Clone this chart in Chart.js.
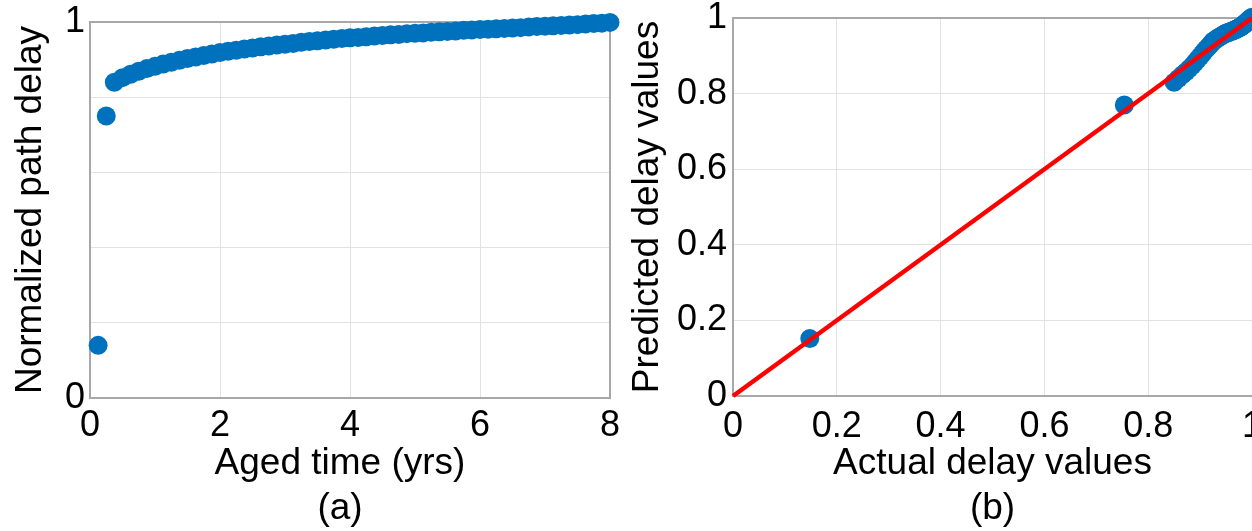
<!DOCTYPE html>
<html>
<head>
<meta charset="utf-8">
<script src="https://cdn.jsdelivr.net/npm/chart.js@4/dist/chart.umd.min.js"></script>
<style>
html, body { margin:0; padding:0; background:#fff; overflow:hidden; width:1252px; height:531px; }
#wrap { position:relative; width:1252px; height:531px; overflow:hidden; background:#fff; }
canvas { position:absolute; top:0; }
#c1 { left:0; width:680px; height:560px; }
#c2 { left:615px; width:690px; height:560px; }
</style>
</head>
<body>
<div id="wrap">
<canvas id="c1" width="680" height="560"></canvas>
<canvas id="c2" width="690" height="560"></canvas>
</div>
<script>
// ---- Panel (a): normalized path delay vs aged time ----
const agedTimeYrs = [
  0.125, 0.25, 0.375, 0.5, 0.625, 0.75, 0.875, 1.0,
  1.125, 1.25, 1.375, 1.5, 1.625, 1.75, 1.875, 2.0,
  2.125, 2.25, 2.375, 2.5, 2.625, 2.75, 2.875, 3.0,
  3.125, 3.25, 3.375, 3.5, 3.625, 3.75, 3.875, 4.0,
  4.125, 4.25, 4.375, 4.5, 4.625, 4.75, 4.875, 5.0,
  5.125, 5.25, 5.375, 5.5, 5.625, 5.75, 5.875, 6.0,
  6.125, 6.25, 6.375, 6.5, 6.625, 6.75, 6.875, 7.0,
  7.125, 7.25, 7.375, 7.5, 7.625, 7.75, 7.875, 8.0
];
const normalizedDelay = [
  0.140, 0.750, 0.840, 0.852, 0.861, 0.869, 0.876, 0.882,
  0.888, 0.893, 0.898, 0.903, 0.907, 0.911, 0.915, 0.919,
  0.922, 0.925, 0.928, 0.931, 0.934, 0.936, 0.939, 0.941,
  0.943, 0.946, 0.948, 0.950, 0.952, 0.954, 0.956, 0.958,
  0.959, 0.961, 0.963, 0.964, 0.966, 0.967, 0.969, 0.970,
  0.971, 0.973, 0.974, 0.975, 0.976, 0.978, 0.979, 0.980,
  0.981, 0.982, 0.983, 0.984, 0.985, 0.987, 0.988, 0.989,
  0.990, 0.991, 0.992, 0.993, 0.995, 0.996, 0.997, 0.999
];
const leftXTicks = [0, 2, 4, 6, 8];
const leftYGrid = [0, 0.2, 0.4, 0.6, 0.8, 1];
const leftYLabels = [0, 1];

// ---- Panel (b): predicted vs actual delay ----
const actualDelay = [
  0.148, 0.754,
  0.850, 0.858, 0.866, 0.873, 0.879, 0.885, 0.890, 0.895,
  0.900, 0.904, 0.908, 0.912, 0.916, 0.920, 0.923, 0.926,
  0.929, 0.932, 0.935, 0.938, 0.940, 0.943, 0.945, 0.947,
  0.949, 0.951, 0.953, 0.955, 0.957, 0.959, 0.961, 0.963,
  0.964, 0.966, 0.968, 0.969, 0.971, 0.972, 0.974, 0.975,
  0.976, 0.978, 0.979, 0.980, 0.981, 0.982, 0.984, 0.985,
  0.986, 0.987, 0.988, 0.989, 0.990, 0.991, 0.993, 0.994,
  0.995, 0.996, 0.997, 0.998, 0.999, 1.000
];
const predictedDelay = [
  0.152, 0.770,
  0.830, 0.840, 0.850, 0.858, 0.866, 0.874, 0.882, 0.890,
  0.898, 0.905, 0.912, 0.918, 0.924, 0.930, 0.935, 0.939,
  0.942, 0.945, 0.948, 0.950, 0.952, 0.954, 0.956, 0.958,
  0.959, 0.960, 0.961, 0.962, 0.963, 0.964, 0.965, 0.966,
  0.967, 0.968, 0.969, 0.970, 0.971, 0.972, 0.973, 0.974,
  0.975, 0.976, 0.977, 0.978, 0.979, 0.980, 0.982, 0.983,
  0.984, 0.986, 0.987, 0.988, 0.990, 0.991, 0.993, 0.994,
  0.996, 0.997, 0.998, 0.999, 1.000, 1.002
];
const idealLineX = [0, 1];
const idealLineY = [0, 1];
const rightTicks = [0, 0.2, 0.4, 0.6, 0.8, 1];

// ---- styling ----
const FONT = "'Liberation Sans', Arial, Helvetica, sans-serif";
const BLUE = '#0072BD';
const RED = '#ff0000';
const GRID = '#e2e2e2';
const BORDER = '#a8a8a8';

function fixSize(w, h) {
  return s => {
    if (w !== null) s.width = w;
    if (h !== null) s.height = h;
    s.paddingTop = 0; s.paddingBottom = 0; s.paddingLeft = 0; s.paddingRight = 0;
  };
}
function setTicks(arr) {
  return s => { s.ticks = arr.map(v => ({ value: v })); };
}
function boxAxis(position, size, showBorder) {
  const horiz = position === 'top';
  return {
    type: 'linear', position: position, display: true,
    ticks: { display: false },
    grid: { display: false, drawTicks: false },
    border: { display: showBorder !== false, color: BORDER, width: 2 },
    afterFit: horiz ? fixSize(null, size) : fixSize(size, null)
  };
}
Chart.defaults.font.family = FONT;
Chart.defaults.color = '#000';

// Panel (a)
new Chart(document.getElementById('c1'), {
  type: 'scatter',
  data: {
    datasets: [{
      data: agedTimeYrs.map((t, i) => ({ x: t, y: normalizedDelay[i] })),
      backgroundColor: BLUE, borderWidth: 0,
      pointRadius: 9.5, pointHoverRadius: 9.5,
      clip: false, xAxisID: 'x', yAxisID: 'y'
    }]
  },
  options: {
    responsive: false, animation: false, devicePixelRatio: 1, events: [],
    layout: { autoPadding: false, padding: { left: 0, right: 0, top: 22, bottom: 0 } },
    plugins: {
      legend: { display: false }, tooltip: { enabled: false },
      title: {
        display: true, position: 'bottom', align: 'center', fullSize: true,
        text: ['Aged time (yrs)', '(a)'],
        color: '#000',
        font: { family: FONT, size: 37, weight: 'normal', lineHeight: 1.2 },
        padding: { top: 0, bottom: 29.4 }
      }
    },
    scales: {
      x: {
        type: 'linear', position: 'bottom', min: 0, max: 8,
        afterBuildTicks: setTicks(leftXTicks),
        ticks: { font: { size: 36 }, color: '#000', padding: 6, maxRotation: 0, autoSkip: false,
                 callback: v => String(v) },
        grid: { color: GRID, lineWidth: 1, drawTicks: false },
        border: { color: BORDER, width: 2 },
        afterFit: fixSize(null, 43.8)
      },
      y: {
        type: 'linear', position: 'left', min: 0, max: 1,
        afterBuildTicks: setTicks(leftYGrid),
        ticks: {
          font: { size: 36 }, color: '#000', padding: 5, autoSkip: false,
          callback: v => (leftYLabels.includes(v) ? String(v) : '')
        },
        grid: { color: GRID, lineWidth: 1, drawTicks: false },
        border: { color: BORDER, width: 2 },
        title: {
          display: true, text: 'Normalized path delay', color: '#000',
          font: { size: 37, lineHeight: 1.2 }, padding: { top: 9, bottom: 0 }
        },
        afterFit: fixSize(90, null)
      },
      x2: boxAxis('top', 0),
      y2: boxAxis('right', 70)
    }
  }
});

// Panel (b)
new Chart(document.getElementById('c2'), {
  type: 'scatter',
  data: {
    datasets: [
      {
        type: 'line',
        data: idealLineX.map((x, i) => ({ x: x, y: idealLineY[i] })),
        borderColor: RED, borderWidth: 4.5, pointRadius: 0, fill: false,
        showLine: true, clip: false, xAxisID: 'x', yAxisID: 'y'
      },
      {
        data: actualDelay.map((a, i) => ({ x: a, y: predictedDelay[i] })),
        backgroundColor: BLUE, borderWidth: 0,
        pointRadius: 9.5, pointHoverRadius: 9.5,
        clip: false, xAxisID: 'x', yAxisID: 'y'
      }
    ]
  },
  options: {
    responsive: false, animation: false, devicePixelRatio: 1, events: [],
    layout: { autoPadding: false, padding: { left: 0, right: 0, top: 18, bottom: 0 } },
    plugins: { legend: { display: false }, tooltip: { enabled: false } },
    scales: {
      x: {
        type: 'linear', position: 'bottom', min: 0, max: 1,
        afterBuildTicks: setTicks(rightTicks),
        ticks: { font: { size: 36 }, color: '#000', padding: 9, maxRotation: 0, autoSkip: false,
                 callback: v => String(v) },
        grid: { color: GRID, lineWidth: 1, drawTicks: false },
        border: { color: BORDER, width: 2 },
        title: {
          display: true, text: ['Actual delay values', '(b)'], color: '#000',
          font: { size: 37, lineHeight: 1.2 }, padding: { top: 0, bottom: 29.3 }
        },
        afterFit: fixSize(null, 164)
      },
      y: {
        type: 'linear', position: 'left', min: 0, max: 1,
        afterBuildTicks: setTicks(rightTicks),
        ticks: { font: { size: 36 }, color: '#000', padding: 6, autoSkip: false,
                 callback: v => String(v) },
        grid: { color: GRID, lineWidth: 1, drawTicks: false },
        border: { color: BORDER, width: 2 },
        title: {
          display: true, text: 'Predicted delay values', color: '#000',
          font: { size: 37, lineHeight: 1.2 }, padding: { top: 10.5, bottom: 0 }
        },
        afterFit: fixSize(118, null)
      },
      x2: boxAxis('top', 0),
      y2: boxAxis('right', 53, false)
    }
  }
});
</script>
</body>
</html>
